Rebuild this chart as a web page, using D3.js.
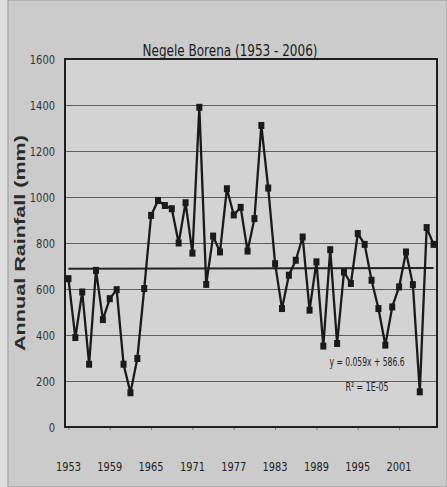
<!DOCTYPE html>
<html>
<head>
<meta charset="utf-8">
<script src="https://cdn.jsdelivr.net/npm/d3@7"></script>
<style>
  html, body { margin: 0; padding: 0; background: #dcdcdc; }
  svg { display: block; }
  .narrow { font-family: 'Liberation Sans Narrow', 'Arial Narrow', 'DejaVu Sans Condensed', 'Liberation Sans', sans-serif; }
</style>
</head>
<body>
<svg id="chart" width="447" height="487"></svg>
<script>
const years = d3.range(1953, 2007);
const rainfall = [
  645, 389, 587, 273, 681, 467, 558, 597, 273, 149, 298, 602,
  920, 985, 963, 949, 800, 975, 756, 1390, 620, 830, 761, 1036,
  922, 955, 765, 906, 1311, 1039, 710, 515, 660, 725, 826, 508,
  718, 352, 771, 363, 674, 624, 841, 794, 638, 515, 356, 522,
  609, 761, 619, 153, 867, 794
];
const trendYears = [1953, 2006];
const trendValues = [688, 691];
const yTicks = [0, 200, 400, 600, 800, 1000, 1200, 1400, 1600];
const xTickLabels = [1953, 1959, 1965, 1971, 1977, 1983, 1989, 1995, 2001];
const title = "Negele Borena (1953 - 2006)";
const yTitle = "Annual Rainfall (mm)";
const equation = "y = 0.059x + 586.6";
const rSquared = "R² = 1E-05";

const svg = d3.select("#chart");
const W = 447, H = 487;
const plot = { left: 65, right: 437, top: 59, bottom: 427 };

// page background
svg.append("rect").attr("x", 0).attr("y", 0).attr("width", W).attr("height", H).attr("fill", "#dedede");
svg.append("rect").attr("x", 8).attr("y", 0).attr("width", W - 8).attr("height", H)
  .attr("fill", "#cbcbcb").attr("stroke", "#9a9a9a").attr("stroke-width", 1);

const x = d3.scalePoint().domain(years).range([plot.left, plot.right]).padding(0.5);
const y = d3.scaleLinear().domain([0, 1600]).range([plot.bottom, plot.top]);

// plot area
svg.append("rect")
  .attr("x", plot.left).attr("y", plot.top)
  .attr("width", plot.right - plot.left).attr("height", plot.bottom - plot.top)
  .attr("fill", "#d3d3d3");

// gridlines
const yAxisGrid = d3.axisLeft(y).tickValues(yTicks.slice(1, -1))
  .tickSize(-(plot.right - plot.left)).tickFormat("");
svg.append("g").attr("transform", `translate(${plot.left},0)`).call(yAxisGrid)
  .call(g => g.select(".domain").remove())
  .call(g => g.selectAll("line").attr("stroke", "#5e5e5e").attr("stroke-width", 1.1));

// y tick labels
const yAxis = d3.axisLeft(y).tickValues(yTicks).tickSize(0).tickPadding(10).tickFormat(d3.format("d"));
svg.append("g").attr("transform", `translate(${plot.left},0)`).call(yAxis)
  .call(g => g.select(".domain").remove())
  .call(g => g.selectAll("text").attr("class", "narrow").attr("font-size", 13).attr("fill", "#333")
    .attr("textLength", d => String(d).length * 6.3).attr("lengthAdjust", "spacingAndGlyphs"));

// x axis ticks (labels drawn separately)
const xAxis = d3.axisBottom(x).tickValues(xTickLabels).tickSize(3).tickFormat("");
svg.append("g").attr("transform", `translate(0,${plot.bottom})`).call(xAxis)
  .call(g => g.select(".domain").remove())
  .call(g => g.selectAll("line").attr("stroke", "#777"));

svg.append("g").selectAll("text").data(xTickLabels).join("text")
  .attr("class", "narrow")
  .attr("x", d => x(d)).attr("y", 471)
  .attr("text-anchor", "middle")
  .attr("font-size", 13).attr("fill", "#222")
  .attr("textLength", 25).attr("lengthAdjust", "spacingAndGlyphs")
  .text(d => d);

// plot border
svg.append("rect")
  .attr("x", plot.left).attr("y", plot.top)
  .attr("width", plot.right - plot.left).attr("height", plot.bottom - plot.top)
  .attr("fill", "none").attr("stroke", "#1e1e1e").attr("stroke-width", 2);

// trend line
svg.append("line")
  .attr("x1", x(trendYears[0])).attr("y1", y(trendValues[0]))
  .attr("x2", x(trendYears[1])).attr("y2", y(trendValues[1]))
  .attr("stroke", "#222").attr("stroke-width", 2);

// series line
const data = years.map((yr, i) => ({ year: yr, value: rainfall[i] }));
svg.append("path").datum(data)
  .attr("fill", "none").attr("stroke", "#1a1a1a").attr("stroke-width", 2.3)
  .attr("stroke-linejoin", "round")
  .attr("d", d3.line().x(d => x(d.year)).y(d => y(d.value)));

svg.append("g").selectAll("rect").data(data).join("rect")
  .attr("x", d => x(d.year) - 3).attr("y", d => y(d.value) - 3.5)
  .attr("width", 6).attr("height", 7).attr("fill", "#1a1a1a");

// title
svg.append("text").attr("class", "narrow")
  .attr("x", 230).attr("y", 56).attr("text-anchor", "middle")
  .attr("font-size", 15).attr("fill", "#1a1a1a")
  .attr("textLength", 175).attr("lengthAdjust", "spacingAndGlyphs")
  .text(title);

// y axis title
svg.append("text")
  .attr("transform", "translate(25,243) rotate(-90)")
  .attr("text-anchor", "middle")
  .attr("font-family", "'Liberation Sans', Arial, sans-serif")
  .attr("font-weight", "bold").attr("font-size", 15)
  .attr("textLength", 216).attr("lengthAdjust", "spacingAndGlyphs")
  .attr("fill", "#2a2a2a").text(yTitle);

// equation
svg.append("text").attr("class", "narrow")
  .attr("x", 367).attr("y", 366).attr("text-anchor", "middle")
  .attr("font-size", 12).attr("fill", "#222")
  .attr("textLength", 75).attr("lengthAdjust", "spacingAndGlyphs")
  .text(equation);
svg.append("text").attr("class", "narrow")
  .attr("x", 367).attr("y", 391).attr("text-anchor", "middle")
  .attr("font-size", 12).attr("fill", "#222")
  .attr("textLength", 43).attr("lengthAdjust", "spacingAndGlyphs")
  .text(rSquared);
</script>
</body>
</html>
